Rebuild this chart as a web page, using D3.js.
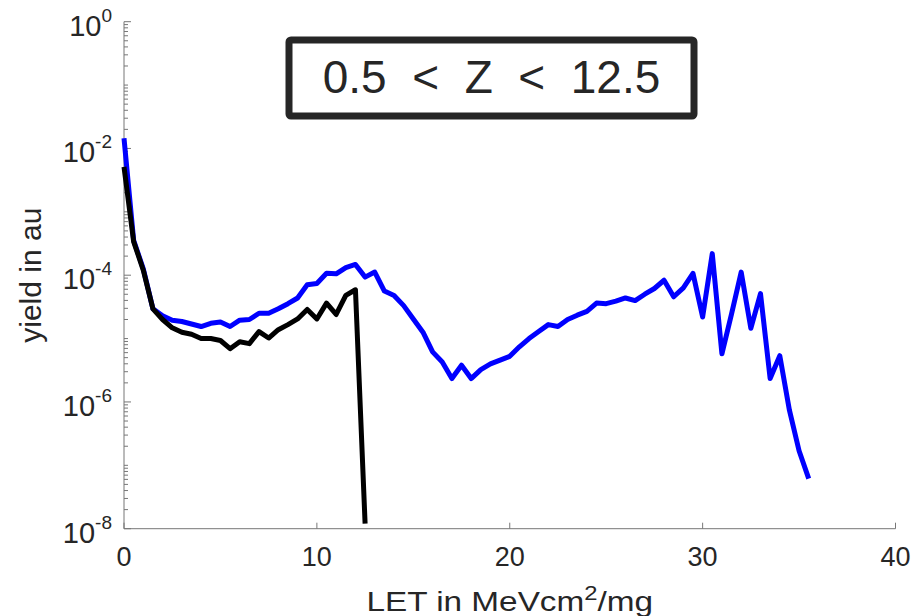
<!DOCTYPE html>
<html>
<head>
<meta charset="utf-8">
<script src="https://cdn.jsdelivr.net/npm/d3@7"></script>
<style>
  body { margin: 0; background: #fff; }
  text { font-family: "Liberation Sans", Arial, Helvetica, sans-serif; fill: #262626; }
</style>
</head>
<body>
<div id="chart"></div>
<script>
// LET bins (MeV cm^2/mg), step 0.5
var letAll = d3.range(0, 36, 0.5);
var letLow = d3.range(0, 13, 0.5);

// yield, all ions 0.5 < Z < 12.5 (blue)
var yieldBlue = [
  1.45e-2, 3.55e-4, 1.26e-4, 2.95e-5, 2.29e-5, 1.95e-5, 1.86e-5, 1.70e-5,
  1.55e-5, 1.74e-5, 1.82e-5, 1.55e-5, 1.95e-5, 2.0e-5, 2.51e-5, 2.51e-5,
  2.95e-5, 3.55e-5, 4.37e-5, 7.08e-5, 7.41e-5, 1.07e-4, 1.05e-4, 1.32e-4,
  1.48e-4, 9.33e-5, 1.12e-4, 5.62e-5, 4.79e-5, 3.31e-5, 2.04e-5, 1.26e-5,
  6.17e-6, 4.27e-6, 2.34e-6, 3.80e-6, 2.34e-6, 3.24e-6, 3.98e-6, 4.57e-6,
  5.25e-6, 7.41e-6, 1.0e-5, 1.29e-5, 1.66e-5, 1.55e-5, 2.0e-5, 2.34e-5,
  2.69e-5, 3.63e-5, 3.55e-5, 3.89e-5, 4.37e-5, 3.98e-5, 5.01e-5, 6.17e-5,
  8.32e-5, 4.57e-5, 6.31e-5, 1.07e-4, 2.19e-5, 2.19e-4, 5.75e-6, 2.45e-5,
  1.12e-4, 1.45e-5, 5.13e-5, 2.34e-6, 5.37e-6, 7.41e-7, 1.70e-7, 6.17e-8
];

// yield, second series (black)
var yieldBlack = [
  5.13e-3, 3.39e-4, 1.20e-4, 2.95e-5, 2.0e-5, 1.48e-5, 1.26e-5, 1.17e-5,
  1.0e-5, 1.0e-5, 9.33e-6, 6.92e-6, 8.91e-6, 8.32e-6, 1.29e-5, 1.02e-5,
  1.38e-5, 1.66e-5, 2.04e-5, 2.88e-5, 2.04e-5, 3.63e-5, 2.40e-5, 4.79e-5,
  5.89e-5, 1.2e-8
];

var xTicks = [0, 10, 20, 30, 40];
var yExponents = [0, -2, -4, -6, -8];
var titleText = '0.5  <  Z  <  12.5';

var width = 914;
var height = 616;
var margin = { left: 124, right: 18.5, top: 21.7, bottom: 87.3 };
var axisColor = '#777';

var svg = d3.select('#chart').append('svg')
  .attr('width', width)
  .attr('height', height);

var x = d3.scaleLinear()
  .domain([0, 40])
  .range([margin.left, width - margin.right]);
var y = d3.scaleLog()
  .domain([1e-8, 1])
  .range([height - margin.bottom, margin.top]);

// minor ticks on the log axis
var minorTicks = [];
for (var e = -8; e < 0; e++) {
  for (var m = 1; m < 10; m++) {
    if (m === 1 && e % 2 === 0) continue;
    minorTicks.push(m * Math.pow(10, e));
  }
}

// axes
var axes = svg.append('g').attr('class', 'axes');
axes.append('line')
  .attr('x1', x(0)).attr('x2', x(0))
  .attr('y1', y(1)).attr('y2', y(1e-8))
  .style('stroke', axisColor).style('stroke-width', 1);
axes.append('line')
  .attr('x1', x(0)).attr('x2', x(40))
  .attr('y1', y(1e-8)).attr('y2', y(1e-8))
  .style('stroke', axisColor).style('stroke-width', 1);

axes.selectAll('.ytick-minor')
  .data(minorTicks)
  .enter().append('line')
  .attr('class', 'ytick-minor')
  .attr('x1', x(0)).attr('x2', x(0) + 4)
  .attr('y1', function (d) { return y(d); })
  .attr('y2', function (d) { return y(d); })
  .style('stroke', axisColor);

axes.selectAll('.ytick')
  .data(yExponents)
  .enter().append('line')
  .attr('class', 'ytick')
  .attr('x1', x(0)).attr('x2', x(0) + 7)
  .attr('y1', function (d) { return y(Math.pow(10, d)); })
  .attr('y2', function (d) { return y(Math.pow(10, d)); })
  .style('stroke', axisColor);

axes.selectAll('.xtick')
  .data(xTicks)
  .enter().append('line')
  .attr('class', 'xtick')
  .attr('x1', function (d) { return x(d); })
  .attr('x2', function (d) { return x(d); })
  .attr('y1', y(1e-8)).attr('y2', y(1e-8) - 6)
  .style('stroke', axisColor);

// tick labels
axes.selectAll('.xlabel')
  .data(xTicks)
  .enter().append('text')
  .attr('class', 'xlabel')
  .attr('x', function (d) { return x(d); })
  .attr('y', y(1e-8) + 37)
  .attr('text-anchor', 'middle')
  .style('font-size', '27px')
  .text(function (d) { return d; });

var ylab = axes.selectAll('.ylabel')
  .data(yExponents)
  .enter().append('text')
  .attr('class', 'ylabel')
  .attr('x', x(0) - 12)
  .attr('y', function (d) { return y(Math.pow(10, d)) + 14; })
  .attr('text-anchor', 'end')
  .style('font-size', '29px');
ylab.append('tspan').text('10');
ylab.append('tspan')
  .attr('dy', -14)
  .style('font-size', '19px')
  .text(function (d) { return d; });

// axis titles
var xMid = (x(0) + x(40)) / 2;
var xt = svg.append('text')
  .attr('x', xMid)
  .attr('y', 611)
  .attr('text-anchor', 'middle')
  .style('font-size', '28px')
  .attr('transform', 'translate(' + (-xMid * 0.19) + ',0) scale(1.19,1)');
xt.append('tspan').text('LET in MeVcm');
xt.append('tspan').attr('dy', -11).style('font-size', '20px').text('2');
xt.append('tspan').attr('dy', 11).text('/mg');

svg.append('text')
  .attr('transform', 'translate(41,' + (y(1e-4)) + ') rotate(-90)')
  .attr('text-anchor', 'middle')
  .style('font-size', '30px')
  .text('yield in au');

// curves
var line = d3.line()
  .x(function (d) { return x(d[0]); })
  .y(function (d) { return y(d[1]); });

svg.append('path')
  .datum(d3.zip(letAll, yieldBlue))
  .attr('d', line)
  .style('fill', 'none')
  .style('stroke', '#0000ff')
  .style('stroke-width', 5)
  .style('stroke-linejoin', 'round');

svg.append('path')
  .datum(d3.zip(letLow, yieldBlack))
  .attr('d', line)
  .style('fill', 'none')
  .style('stroke', '#000')
  .style('stroke-width', 5)
  .style('stroke-linejoin', 'round');

// title box
svg.append('rect')
  .attr('x', 289).attr('y', 40)
  .attr('width', 405).attr('height', 76)
  .attr('rx', 2)
  .style('fill', '#fff')
  .style('stroke', '#262626')
  .style('stroke-width', 7);
svg.append('text')
  .attr('x', 491.5).attr('y', 93)
  .attr('text-anchor', 'middle')
  .attr('xml:space', 'preserve')
  .style('white-space', 'pre')
  .style('font-size', '46px')
  .text(titleText);
</script>
</body>
</html>
